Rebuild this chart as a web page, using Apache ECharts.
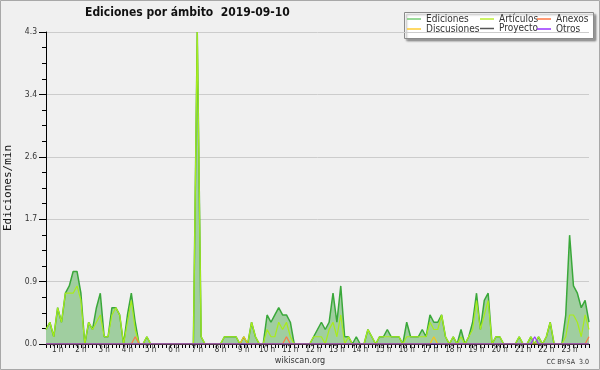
<!DOCTYPE html>
<html><head><meta charset="utf-8">
<script src="https://cdn.jsdelivr.net/npm/echarts@6/dist/echarts.min.js"></script>
<style>html,body{margin:0;padding:0;background:#f0f0f0}#c{width:600px;height:370px}</style>
</head><body><div id="c"></div><script>
// Data: one value every 10 minutes (index 0 = 00:00)
const hourLabels = ['1 h','2 h','3 h','4 h','5 h','6 h','7 h','8 h','9 h','10 h','11 h','12 h','13 h','14 h','15 h','16 h','17 h','18 h','19 h','20 h','21 h','22 h','23 h'];
const yTickLabels = ['0.0','0.9','1.7','2.6','3.4','4.3'];
const ediciones = [
 0.2,0.3,0.1,0.5,0.3,0.7,0.8,1.0,1.0,0.7,
 0,0.3,0.2,0.5,0.7,0.1,0.1,0.5,0.5,0.4,
 0,0.4,0.7,0.3,0,0,0.1,0,0,0,
 0,0,0,0,0,0,0,0,0,4.3,
 0.1,0,0,0,0,0,0.1,0.1,0.1,0.1,
 0,0.1,0,0.3,0.1,0,0,0.4,0.3,0.4,
 0.5,0.4,0.4,0.3,0,0,0,0,0,0.1,
 0.2,0.3,0.2,0.3,0.7,0.3,0.8,0.1,0.1,0,
 0.1,0,0,0.2,0.1,0,0.1,0.1,0.2,0.1,
 0.1,0.1,0,0.3,0.1,0.1,0.1,0.2,0.1,0.4,
 0.3,0.3,0.4,0.1,0,0.1,0,0.2,0,0.1,
 0.3,0.7,0.2,0.6,0.7,0,0.1,0.1,0,0,
 0,0,0.1,0,0,0.1,0,0.1,0,0.1,
 0.3,0,0,0,0.4,1.5,0.8,0.7,0.5,0.6,
 0.3];
const articulos = [
 0.2,0.3,0.1,0.5,0.3,0.7,0.7,0.7,0.8,0.6,
 0,0.3,0.2,0.3,0.4,0.1,0.1,0.4,0.5,0.4,
 0,0.3,0.6,0.2,0,0,0.1,0,0,0,
 0,0,0,0,0,0,0,0,0,4.3,
 0.1,0,0,0,0,0,0.1,0.1,0.1,0.1,
 0,0,0,0.3,0.1,0,0,0.2,0.1,0.1,
 0.3,0.2,0.3,0.1,0,0,0,0,0,0.1,
 0.1,0.1,0,0.2,0.3,0.1,0.4,0,0.1,0,
 0,0,0,0.2,0.1,0,0.1,0.1,0.1,0.1,
 0.1,0.1,0,0.1,0.1,0.1,0.1,0.1,0.1,0.3,
 0.2,0.2,0.4,0.1,0,0.1,0,0.1,0,0.1,
 0.2,0.6,0.2,0.4,0.6,0,0.1,0.1,0,0,
 0,0,0.1,0,0,0.1,0,0.1,0,0.1,
 0.3,0,0,0,0.1,0.4,0.4,0.3,0.1,0.4,
 0.2];
const anexos = [
 0,0,0,0,0,0,0,0,0,0, 0,0,0,0,0,0,0,0,0,0, 0,0,0,0.1,0,0,0,0,0,0,
 0,0,0,0,0,0,0,0,0,0, 0,0,0,0,0,0,0,0,0,0, 0,0,0,0,0,0,0,0,0,0,
 0,0,0.1,0,0,0,0,0,0,0, 0,0,0,0,0,0,0,0,0,0, 0,0,0,0,0,0,0,0,0,0,
 0,0,0,0,0,0,0,0,0,0, 0,0,0,0,0,0,0,0,0,0, 0,0,0,0,0,0,0,0,0,0,
 0,0,0,0,0,0,0,0,0,0, 0,0,0,0,0,0,0,0,0,0, 0.1];
const discusiones = [
 0,0,0,0,0,0,0,0,0,0, 0,0,0,0,0,0,0,0,0,0, 0,0,0,0,0,0,0,0,0,0,
 0,0,0,0,0,0,0,0,0,0, 0,0,0,0,0,0,0,0,0,0, 0,0.1,0,0,0,0,0,0,0,0,
 0,0,0,0,0,0,0,0,0,0, 0,0,0,0,0,0,0,0,0,0, 0,0,0,0,0,0,0,0,0,0,
 0,0,0,0,0,0,0,0,0,0, 0.1,0,0,0,0,0,0,0,0,0, 0,0,0,0,0,0,0,0,0,0,
 0,0,0,0,0,0,0,0,0,0, 0,0,0,0,0,0,0,0,0,0, 0];
const proyecto = [
 0,0,0,0,0,0,0,0,0,0, 0,0,0,0,0,0,0,0,0,0, 0,0,0,0,0,0,0,0,0,0,
 0,0,0,0,0,0,0,0,0,0, 0,0,0,0,0,0,0,0,0,0, 0,0,0,0,0,0,0,0,0,0,
 0,0,0,0,0,0,0,0,0,0, 0,0,0,0,0,0,0,0,0,0, 0,0,0,0,0,0,0,0,0,0,
 0,0,0,0,0,0,0,0,0,0, 0,0,0,0,0,0,0,0,0,0, 0,0,0,0,0,0,0,0,0,0,
 0,0,0,0,0,0,0,0,0,0, 0,0,0,0,0,0,0,0,0,0, 0];
const otros = [
 0,0,0,0,0,0,0,0,0,0, 0,0,0,0,0,0,0,0,0,0, 0,0,0,0,0,0,0,0,0,0,
 0,0,0,0,0,0,0,0,0,0, 0,0,0,0,0,0,0,0,0,0, 0,0,0,0,0,0,0,0,0,0,
 0,0,0,0,0,0,0,0,0,0, 0,0,0,0,0,0,0,0,0,0, 0,0,0,0,0,0,0,0,0,0,
 0,0,0,0,0,0,0,0,0,0, 0,0,0,0,0,0,0,0,0,0, 0,0,0,0,0,0,0,0,0,0,
 0,0,0,0,0,0,0.1,0,0,0, 0,0,0,0,0,0,0,0,0,0, 0];

const F = "'DejaVu Sans Condensed','DejaVu Sans',sans-serif";
const pts = a => a.map((v, i) => [i, v]);
const chart = echarts.init(document.getElementById('c'), null, {renderer: 'canvas'});

const seriesDefs = [
  {name: 'Ediciones', data: ediciones, line: '#3aa83a', legend: '#77cc77', width: 1.5, area: '#a0cea0'},
  {name: 'Artículos', data: articulos, line: '#a8ec1c', legend: '#bbee33', width: 1.2},
  {name: 'Anexos', data: anexos, line: '#ff7744', legend: '#ff7744', width: 1.2},
  {name: 'Discusiones', data: discusiones, line: '#f5c518', legend: '#ffcc33', width: 1.2},
  {name: 'Proyecto', data: proyecto, line: '#555555', legend: '#555555', width: 1.2},
  {name: 'Otros', data: otros, line: '#9933ff', legend: '#9933ff', width: 1.2}
];
const legendPos = {
  'Ediciones': [407, 14], 'Discusiones': [407, 24],
  'Artículos': [480, 14], 'Proyecto': [480, 23.5],
  'Anexos': [537, 14], 'Otros': [537, 24]
};

const option = {
  animation: false,
  backgroundColor: '#f0f0f0',
  title: {
    text: 'Ediciones por ámbito  2019-09-10',
    left: 85, top: 7, padding: 0,
    textStyle: {fontFamily: F, fontSize: 12, fontWeight: 'bold', color: '#111'}
  },
  legend: seriesDefs.map(s => ({
    data: [{name: s.name, itemStyle: {color: s.legend}}],
    left: legendPos[s.name][0], top: legendPos[s.name][1],
    padding: 0, icon: 'rect', itemWidth: 14, itemHeight: 1.5,
    selectedMode: false,
    textStyle: {fontFamily: F, fontSize: 10, color: '#333'}
  })),
  grid: {left: 46, right: 11, top: 32, bottom: 26, containLabel: false, outerBoundsMode: 'none'},
  xAxis: {
    type: 'value', min: 0, max: ediciones.length - 1, interval: 1, z: 5,
    axisLine: {lineStyle: {color: '#000', width: 1}},
    axisTick: {length: 4, lineStyle: {color: '#000'}},
    splitLine: {show: false},
    axisLabel: {
      margin: 2, fontFamily: F, fontSize: 8, color: '#333',
      formatter: v => ((v + 3) % 6 === 0 && hourLabels[(v + 3) / 6 - 1]) ? hourLabels[(v + 3) / 6 - 1] : ''
    }
  },
  yAxis: {
    type: 'value', min: 0, max: 4.3, interval: 0.86,
    name: 'Ediciones/min', nameLocation: 'middle', nameGap: 30,
    nameTextStyle: {fontFamily: "'DejaVu Sans Mono',monospace", fontSize: 11, color: '#111'},
    axisLine: {show: true, lineStyle: {color: '#000', width: 1}},
    axisTick: {show: true, length: 7, lineStyle: {color: '#000'}},
    minorTick: {show: true, splitNumber: 4, length: 4, lineStyle: {color: '#000'}},
    splitLine: {show: true, lineStyle: {color: '#cccccc', width: 1}},
    axisLabel: {
      margin: 9, fontFamily: F, fontSize: 8.5, color: '#333',
      formatter: v => yTickLabels[Math.round(v / 0.86)] || v.toFixed(1)
    }
  },
  graphic: [
    {type: 'rect', z: -1, shape: {x: 0.5, y: 0.5, width: 599, height: 369},
     style: {fill: 'none', stroke: '#a8a8a8', lineWidth: 1}},
    {type: 'rect', z: 0, shape: {x: 404.5, y: 12.5, width: 189, height: 26},
     style: {fill: '#ffffff', stroke: '#8a8a8a', lineWidth: 1, shadowBlur: 2, shadowOffsetX: 2, shadowOffsetY: 2, shadowColor: 'rgba(0,0,0,0.35)'}},
    {type: 'text', x: 300, y: 361, style: {text: 'wikiscan.org', fontFamily: F, fontSize: 9, fill: '#333', textAlign: 'center', textVerticalAlign: 'middle'}},
    {type: 'text', x: 589, y: 362, style: {text: 'CC BY-SA  3.0', fontFamily: F, fontSize: 7, fill: '#333', textAlign: 'right', textVerticalAlign: 'middle'}}
  ],
  series: seriesDefs.map((s, k) => ({
    name: s.name, type: 'line', data: pts(s.data),
    showSymbol: false, symbol: 'none', smooth: false, z: 2 + k,
    lineStyle: {color: s.line, width: s.width},
    itemStyle: {color: s.legend},
    areaStyle: s.area ? {color: s.area, opacity: 1} : undefined
  }))
};
chart.setOption(option);
</script></body></html>
